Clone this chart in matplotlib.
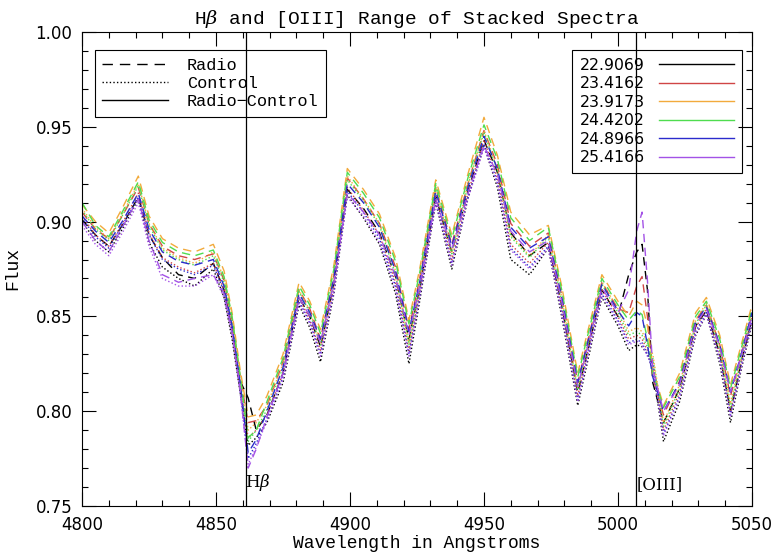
import matplotlib
matplotlib.use("Agg")
import matplotlib.pyplot as plt
from matplotlib.lines import Line2D
from matplotlib.ticker import MultipleLocator

# wavelength knots (Angstroms)
wave = [4800, 4805, 4810, 4815, 4821, 4825, 4830, 4836, 4842, 4849,
        4853, 4856, 4859, 4862, 4865, 4869, 4875, 4881, 4885, 4889,
        4894, 4899, 4905, 4911, 4917, 4922, 4926, 4932, 4938, 4944,
        4950, 4955, 4960, 4967, 4974, 4979, 4985, 4988, 4994, 5000,
        5004, 5007, 5009, 5011, 5013, 5017, 5023, 5029, 5033, 5038,
        5042, 5046, 5050]

labels = ["22.9069", "23.4162", "23.9173", "24.4202", "24.8966", "25.4166"]
colors = ["black", "#d04545", "#f2aa3c", "#4fdc4f", "#2b2bcc", "#a352e6"]

# Radio stacks (dashed)
radio_black = [0.901, 0.893, 0.887, 0.898, 0.913, 0.893, 0.881, 0.872, 0.870, 0.878,
               0.864, 0.843, 0.816, 0.807, 0.790, 0.798, 0.820, 0.860, 0.850, 0.834,
               0.868, 0.917, 0.907, 0.894, 0.871, 0.838, 0.865, 0.913, 0.884, 0.916,
               0.943, 0.926, 0.894, 0.882, 0.889, 0.856, 0.810, 0.828, 0.864, 0.850,
               0.872, 0.884, 0.888, 0.864, 0.815, 0.794, 0.812, 0.845, 0.853, 0.830,
               0.800, 0.826, 0.848]
radio_red = [0.905, 0.896, 0.891, 0.903, 0.918, 0.899, 0.887, 0.882, 0.880, 0.883,
             0.869, 0.848, 0.818, 0.794, 0.795, 0.803, 0.826, 0.864, 0.854, 0.838,
             0.872, 0.923, 0.912, 0.899, 0.876, 0.843, 0.870, 0.918, 0.888, 0.920,
             0.948, 0.930, 0.899, 0.887, 0.894, 0.861, 0.815, 0.833, 0.868, 0.854,
             0.852, 0.866, 0.871, 0.850, 0.818, 0.798, 0.816, 0.848, 0.856, 0.835,
             0.808, 0.830, 0.851]
radio_orange = [0.909, 0.900, 0.894, 0.907, 0.924, 0.903, 0.891, 0.886, 0.884, 0.888,
                0.874, 0.852, 0.822, 0.797, 0.798, 0.808, 0.830, 0.868, 0.858, 0.843,
                0.877, 0.928, 0.917, 0.904, 0.881, 0.848, 0.875, 0.922, 0.893, 0.925,
                0.955, 0.935, 0.905, 0.893, 0.898, 0.866, 0.820, 0.838, 0.872, 0.858,
                0.850, 0.858, 0.856, 0.845, 0.822, 0.803, 0.820, 0.852, 0.860, 0.840,
                0.814, 0.835, 0.856]
radio_green = [0.910, 0.898, 0.892, 0.905, 0.921, 0.901, 0.889, 0.884, 0.882, 0.885,
               0.871, 0.850, 0.819, 0.786, 0.790, 0.805, 0.828, 0.866, 0.856, 0.841,
               0.875, 0.926, 0.915, 0.902, 0.879, 0.846, 0.873, 0.920, 0.891, 0.923,
               0.951, 0.933, 0.902, 0.890, 0.897, 0.864, 0.818, 0.836, 0.870, 0.856,
               0.848, 0.853, 0.851, 0.838, 0.820, 0.802, 0.818, 0.850, 0.858, 0.838,
               0.812, 0.833, 0.854]
radio_blue = [0.903, 0.895, 0.889, 0.900, 0.915, 0.896, 0.884, 0.879, 0.877, 0.880,
              0.866, 0.845, 0.815, 0.778, 0.785, 0.800, 0.823, 0.862, 0.852, 0.838,
              0.870, 0.920, 0.910, 0.897, 0.874, 0.842, 0.868, 0.916, 0.887, 0.918,
              0.945, 0.928, 0.897, 0.886, 0.892, 0.860, 0.815, 0.832, 0.867, 0.853,
              0.845, 0.852, 0.850, 0.835, 0.818, 0.800, 0.815, 0.847, 0.855, 0.835,
              0.810, 0.830, 0.852]
radio_purple = [0.900, 0.890, 0.884, 0.897, 0.912, 0.890, 0.872, 0.868, 0.870, 0.872,
                0.862, 0.842, 0.812, 0.770, 0.780, 0.797, 0.820, 0.860, 0.850, 0.836,
                0.868, 0.915, 0.905, 0.893, 0.871, 0.840, 0.866, 0.912, 0.885, 0.915,
                0.940, 0.925, 0.895, 0.884, 0.890, 0.858, 0.813, 0.830, 0.865, 0.852,
                0.864, 0.895, 0.905, 0.869, 0.822, 0.800, 0.814, 0.846, 0.854, 0.834,
                0.810, 0.829, 0.850]

# Control stacks (dotted)
control_black = [0.900, 0.890, 0.884, 0.896, 0.912, 0.889, 0.876, 0.870, 0.866, 0.875,
                 0.860, 0.838, 0.810, 0.782, 0.786, 0.794, 0.815, 0.856, 0.844, 0.826,
                 0.862, 0.914, 0.902, 0.888, 0.862, 0.825, 0.858, 0.910, 0.875, 0.912,
                 0.940, 0.918, 0.880, 0.872, 0.886, 0.850, 0.803, 0.822, 0.860, 0.845,
                 0.832, 0.835, 0.834, 0.830, 0.822, 0.784, 0.805, 0.840, 0.851, 0.825,
                 0.794, 0.822, 0.846]
control_red = [0.903, 0.893, 0.887, 0.899, 0.915, 0.894, 0.881, 0.876, 0.873, 0.878,
               0.864, 0.843, 0.813, 0.786, 0.790, 0.798, 0.820, 0.860, 0.848, 0.832,
               0.866, 0.918, 0.906, 0.893, 0.868, 0.832, 0.863, 0.914, 0.880, 0.915,
               0.943, 0.923, 0.888, 0.878, 0.889, 0.855, 0.808, 0.827, 0.864, 0.850,
               0.838, 0.840, 0.838, 0.832, 0.826, 0.790, 0.810, 0.844, 0.854, 0.830,
               0.800, 0.826, 0.850]
control_orange = [0.907, 0.897, 0.891, 0.904, 0.920, 0.899, 0.886, 0.881, 0.878, 0.884,
                  0.870, 0.849, 0.818, 0.790, 0.794, 0.803, 0.825, 0.864, 0.853, 0.836,
                  0.872, 0.924, 0.912, 0.899, 0.874, 0.836, 0.868, 0.919, 0.884, 0.920,
                  0.948, 0.928, 0.893, 0.882, 0.893, 0.860, 0.812, 0.831, 0.868, 0.854,
                  0.842, 0.844, 0.842, 0.836, 0.830, 0.794, 0.814, 0.848, 0.857, 0.834,
                  0.804, 0.830, 0.853]
control_green = [0.906, 0.896, 0.890, 0.903, 0.919, 0.898, 0.885, 0.880, 0.877, 0.882,
                 0.868, 0.847, 0.816, 0.784, 0.790, 0.801, 0.823, 0.863, 0.852, 0.835,
                 0.870, 0.922, 0.911, 0.898, 0.872, 0.835, 0.866, 0.918, 0.883, 0.919,
                 0.947, 0.927, 0.892, 0.881, 0.892, 0.858, 0.811, 0.830, 0.867, 0.852,
                 0.840, 0.842, 0.840, 0.834, 0.828, 0.792, 0.812, 0.846, 0.856, 0.832,
                 0.802, 0.828, 0.852]
control_blue = [0.902, 0.892, 0.886, 0.898, 0.913, 0.893, 0.880, 0.875, 0.872, 0.877,
                0.863, 0.842, 0.811, 0.775, 0.783, 0.796, 0.818, 0.858, 0.847, 0.830,
                0.864, 0.916, 0.905, 0.891, 0.866, 0.830, 0.861, 0.912, 0.878, 0.913,
                0.941, 0.921, 0.886, 0.876, 0.887, 0.853, 0.806, 0.825, 0.862, 0.848,
                0.836, 0.838, 0.836, 0.830, 0.824, 0.788, 0.808, 0.842, 0.852, 0.828,
                0.798, 0.824, 0.848]
control_purple = [0.898, 0.888, 0.882, 0.894, 0.910, 0.887, 0.870, 0.866, 0.866, 0.872,
                  0.860, 0.840, 0.810, 0.772, 0.781, 0.795, 0.817, 0.857, 0.846, 0.829,
                  0.863, 0.913, 0.903, 0.889, 0.864, 0.829, 0.860, 0.910, 0.877, 0.912,
                  0.939, 0.920, 0.885, 0.875, 0.886, 0.852, 0.805, 0.824, 0.861, 0.847,
                  0.835, 0.837, 0.835, 0.829, 0.823, 0.787, 0.807, 0.841, 0.851, 0.827,
                  0.797, 0.823, 0.847]

radio = [radio_black, radio_red, radio_orange, radio_green, radio_blue, radio_purple]
control = [control_black, control_red, control_orange, control_green, control_blue, control_purple]

hbeta = 4861.3
oiii = 5006.8

plt.rcParams["mathtext.fontset"] = "dejavuserif"
mono = "Liberation Mono"
dash = (6, 4)
dot = (1, 1.6)

fig = plt.figure(figsize=(7.76, 5.59), dpi=100)
ax = fig.add_axes([0.1057, 0.0948, 0.8633, 0.848])

for c, r, k in zip(colors, radio, control):
    ax.plot(wave, k, color=c, lw=1.0, dashes=dot)
    ax.plot(wave, r, color=c, lw=1.0, dashes=dash)

ax.axvline(hbeta, color="black", lw=0.9, zorder=6)
ax.axvline(oiii, color="black", lw=0.9, zorder=6)
ax.text(hbeta - 0.3, 0.757, r"H$\beta$", fontsize=12, family="DejaVu Serif", ha="left", va="bottom")
ax.text(oiii + 0.3, 0.757, "[OIII]", fontsize=12, family="DejaVu Serif", ha="left", va="bottom")

ax.set_xlim(4800, 5050)
ax.set_ylim(0.75, 1.00)
ax.xaxis.set_major_locator(MultipleLocator(50))
ax.xaxis.set_minor_locator(MultipleLocator(10))
ax.yaxis.set_major_locator(MultipleLocator(0.05))
ax.yaxis.set_minor_locator(MultipleLocator(0.01))
ax.yaxis.set_major_formatter(lambda v, p: f"{v:.2f}")
ax.tick_params(which="both", direction="in", top=True, right=True, labelsize=12, pad=7)
ax.tick_params(which="major", length=10, width=0.8)
ax.tick_params(which="minor", length=4, width=0.8)
for s in ax.spines.values():
    s.set_linewidth(0.8)

ax.set_title(r"H$\beta$ and [OIII] Range of Stacked Spectra", family=mono, fontsize=14, pad=6)
ax.set_xlabel("Wavelength in Angstroms", family=mono, fontsize=13, labelpad=1)
ax.set_ylabel("Flux", family=mono, fontsize=13, labelpad=10)

# left legend: line styles
style_handles = [Line2D([], [], color="black", lw=1.0, dashes=(7.5, 5)),
                 Line2D([], [], color="black", lw=1.0, dashes=dot),
                 Line2D([], [], color="black", lw=1.0)]
leg1 = ax.legend(style_handles, ["Radio", "Control", "Radio\u2212Control"],
                 loc="upper left", bbox_to_anchor=(0.019, 0.962), borderaxespad=0,
                 prop={"family": mono, "size": 12.2}, handlelength=3.9,
                 fancybox=False, edgecolor="black", facecolor="none", framealpha=1,
                 labelspacing=0.2, borderpad=0.45, handletextpad=1.1)
leg1.get_frame().set_linewidth(0.8)
ax.add_artist(leg1)

# right legend: colours
color_handles = [Line2D([], [], color=c, lw=1.0) for c in colors]
leg2 = ax.legend(color_handles, labels, loc="upper right", bbox_to_anchor=(0.985, 0.962),
                 borderaxespad=0, markerfirst=False, prop={"size": 11.3},
                 handlelength=4.8, fancybox=False, edgecolor="black", facecolor="none",
                 framealpha=1, labelspacing=0.22, borderpad=0.5, handletextpad=0.9)
leg2.get_frame().set_linewidth(0.8)

fig.savefig("out.png", dpi=100)
